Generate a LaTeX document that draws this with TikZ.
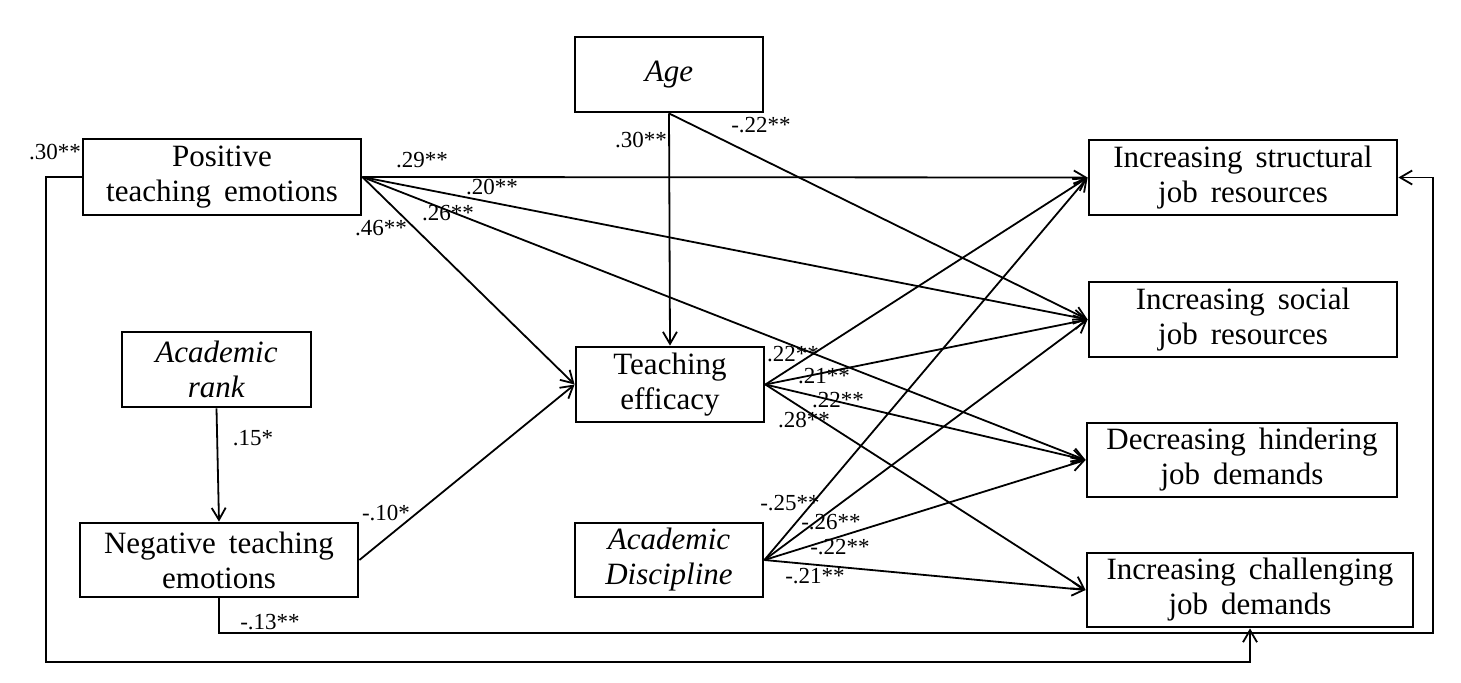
\documentclass[tikz,border=0pt]{standalone}
\usepackage{fontspec}
\setmainfont{Liberation Serif}
\usetikzlibrary{arrows.meta}
\begin{document}
\begin{tikzpicture}[x=0.5pt,y=-0.5pt,
  box/.style={draw, line width=1.4pt, inner sep=0pt, align=center,
    font=\fontsize{15.5}{17.5}\selectfont,
    execute at begin node={\spaceskip=0.42em\relax}},
  lab/.style={font=\fontsize{11.5}{13}\selectfont, inner sep=0pt},
  arr/.style={line width=0.9pt, -{Straight Barb[length=6pt,width=7pt,line width=0.9pt]}}]
\useasboundingbox (0,0) rectangle (1461,682);
% boxes
\node[box, minimum width=94pt, minimum height=37.5pt] (age) at (669,74.5) {\textit{Age}};
\node[box, minimum width=139pt, minimum height=38pt] (pos) at (222,177) {Positive\\teaching emotions};
\node[box, minimum width=94.5pt, minimum height=37.5pt] (rank) at (216.5,369.5) {\textit{Academic}\\\textit{rank}};
\node[box, minimum width=139pt, minimum height=37pt] (neg) at (219,560) {Negative teaching\\emotions};
\node[box, minimum width=94pt, minimum height=37.5pt] (eff) at (670,384.5) {Teaching\\efficacy};
\node[box, minimum width=94pt, minimum height=37pt] (disc) at (669,560) {\textit{Academic}\\\textit{Discipline}};
\node[box, minimum width=154pt, minimum height=37.5pt] (struct) at (1243,177.5) {Increasing structural\\job resources};
\node[box, minimum width=154pt, minimum height=37.5pt] (social) at (1243,319.5) {Increasing social\\job resources};
\node[box, minimum width=155pt, minimum height=37pt] (hinder) at (1242,460) {Decreasing hindering\\job demands};
\node[box, minimum width=163pt, minimum height=37pt] (chall) at (1250,590) {Increasing challenging\\job demands};
% corner coordinates of the feedback paths
\coordinate (c1) at (46,662);
\coordinate (c2) at (1433,633);
% connectors
\draw[arr] (pos.east) -- (struct.west);
\draw[arr] (pos.east) -- (social.west);
\draw[arr] (pos.east) -- (hinder.west);
\draw[arr] (pos.east) -- (eff.west);
\draw[arr] (age.south) -- (eff.north);
\draw[arr] (age.south) -- (social.west);
\draw[arr] (rank.south) -- (neg.north);
\draw[arr] (neg.east) -- (eff.west);
\draw[arr] (eff.east) -- (struct.west);
\draw[arr] (eff.east) -- (social.west);
\draw[arr] (eff.east) -- (hinder.west);
\draw[arr] (eff.east) -- (chall.west);
\draw[arr] (disc.east) -- (struct.west);
\draw[arr] (disc.east) -- (social.west);
\draw[arr] (disc.east) -- (hinder.west);
\draw[arr] (disc.east) -- (chall.west);
\draw[arr] (pos.west) -| (c1) -| (chall.south);
\draw[arr] (neg.south) |- (c2) |- (struct.east);
% labels
\node[lab] (l1) at (55,152) {.30**};
\node[lab] (l2) at (422,160) {.29**};
\node[lab] (l3) at (492,187) {.20**};
\node[lab] (l4) at (448,213) {.26**};
\node[lab] (l5) at (381,228) {.46**};
\node[lab] (l6) at (641,140) {.30**};
\node[lab] (l7) at (761,125) {-.22**};
\node[lab] (l8) at (793,354) {.22**};
\node[lab] (l9) at (824,376) {.21**};
\node[lab] (l10) at (838,400) {.22**};
\node[lab] (l11) at (804,420) {.28**};
\node[lab] (l12) at (790,503) {-.25**};
\node[lab] (l13) at (831,522) {-.26**};
\node[lab] (l14) at (840,547) {-.22**};
\node[lab] (l15) at (815,576) {-.21**};
\node[lab] (l16) at (386,513) {-.10*};
\node[lab] (l17) at (270,622) {-.13**};
\node[lab] (l18) at (253,438) {.15*};
\end{tikzpicture}
\end{document}
